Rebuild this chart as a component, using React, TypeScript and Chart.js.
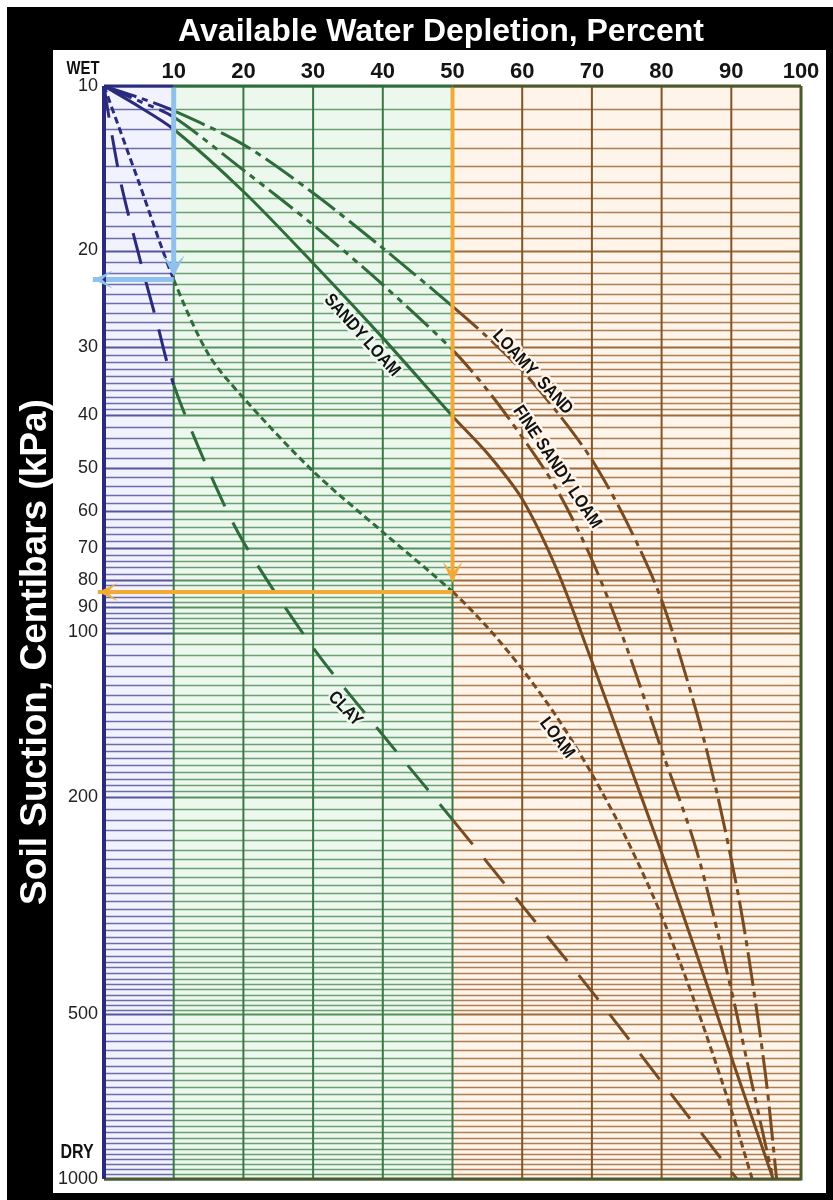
import React, { useEffect, useRef } from 'react';
import { Chart, registerables } from 'chart.js';

Chart.register(...registerables);

// ---------- data ----------
const TITLE = 'Available Water Depletion, Percent';
const Y_TITLE = 'Soil Suction, Centibars (kPa)';
const X_TICKS = [10, 20, 30, 40, 50, 60, 70, 80, 90, 100];
const Y_LABELS = [10, 20, 30, 40, 50, 60, 70, 80, 90, 100, 200, 500, 1000];
const REGION_BOUNDS = [0, 10, 50, 100];

const SANDY_LOAM_X = [0, 5, 10, 20, 30, 40, 50, 55, 60, 65, 70, 75, 80, 85, 90, 96];
const SANDY_LOAM_Y = [10, 10.9, 12.0, 15.6, 21.1, 28.9, 40.2, 47, 57, 76.9, 113, 169, 253, 387, 598, 1000];

const LOAMY_SAND_X = [0, 5, 10, 20, 30, 40, 50, 55, 60, 65, 70, 75, 80, 85, 88, 91, 93, 95, 96.5];
const LOAMY_SAND_Y = [10, 10.5, 11.1, 12.8, 15.7, 19.8, 25.3, 28.8, 33.2, 39.5, 48.3, 62.8, 87.2, 139.8, 198, 302, 432, 659, 1000];

const FINE_SANDY_LOAM_X = [0, 5, 10, 20, 30, 40, 50, 55, 60, 65, 70, 75, 80, 85, 90, 93, 96];
const FINE_SANDY_LOAM_Y = [10, 10.65, 11.4, 14.25, 17.96, 23.1, 30.4, 36, 43.9, 54.8, 73.6, 106.6, 164, 250, 451, 673, 1000];

const LOAM_X = [0, 5, 10, 15, 20, 30, 40, 50, 55, 60, 65, 70, 75, 80, 85, 90, 93];
const LOAM_Y = [10, 15, 22.6, 31, 37.2, 50.7, 65.5, 84.2, 97.8, 116.7, 143, 181.5, 239, 330, 484, 748, 1000];

const CLAY_X = [0, 1, 2.5, 5, 7.5, 10, 15, 20, 30, 40, 50, 60, 70, 80, 90.8];
const CLAY_Y = [10, 12, 15.2, 20.4, 26.8, 35.2, 50.5, 68.3, 106.6, 154, 220, 316, 454, 664, 1000];

const BLUE_DOWN_X = [10, 10];
const BLUE_DOWN_Y = [10, 22];
const BLUE_LEFT_X = [10, -1.6];
const BLUE_LEFT_Y = [22.6, 22.6];
const ORANGE_DOWN_X = [50, 50];
const ORANGE_DOWN_Y = [10, 80];
const ORANGE_LEFT_X = [50, -0.9];
const ORANGE_LEFT_Y = [84.3, 84.3];

const CURVE_LABELS = [
  { text: 'SANDY LOAM', x: 37, y: 28.6, angle: 48 },
  { text: 'LOAMY  SAND', x: 61.5, y: 33.4, angle: 47 },
  { text: 'FINE SANDY LOAM', x: 65, y: 49.8, angle: 56 },
  { text: 'CLAY', x: 34.6, y: 138, angle: 46 },
  { text: 'LOAM', x: 65, y: 156, angle: 53 },
];

// ---------- styles ----------
const FONT = "'Liberation Sans', Arial, sans-serif";
const REGION_FILL = ['#f1f2fd', '#ecf8ed', '#fff4e9'];
const REGION_LINE = ['#55559f', '#55905e', '#9c6a3a'];
const REGION_CURVE = ['#2b2b7d', '#2e6c3a', '#7a4b20'];
const GRID_STEPS = [
  [10, 40, 1],
  [40, 100, 2],
  [100, 200, 5],
  [200, 500, 10],
  [500, 1000, 20],
];

const gridValues: number[] = [];
for (const [a, b, s] of GRID_STEPS) {
  for (let v = a; v < b - 1e-9; v += s) gridValues.push(v);
}
gridValues.push(1000);

const regionOf = (xv: number) => (xv < REGION_BOUNDS[1] ? 0 : xv < REGION_BOUNDS[2] ? 1 : 2);
const pts = (xs: number[], ys: number[]) => xs.map((x, i) => ({ x, y: ys[i] }));

const curve = (label: string, xs: number[], ys: number[], dash: number[]) => ({
  label,
  data: pts(xs, ys),
  borderWidth: 3,
  borderDash: dash,
  borderColor: REGION_CURVE[2],
  borderCapStyle: 'butt',
  pointRadius: 0,
  fill: false,
  tension: 0.3,
  order: 1,
  segment: {
    borderColor: (c: any) => REGION_CURVE[regionOf((c.p0.parsed.x + c.p1.parsed.x) / 2)],
  },
});

const guide = (label: string, xs: number[], ys: number[], color: string, width: number) => ({
  label,
  data: pts(xs, ys),
  borderWidth: width,
  borderColor: color,
  borderCapStyle: 'butt',
  pointRadius: 0,
  fill: false,
  tension: 0,
  clip: false,
  order: 0,
});

function arrowHead(ctx: CanvasRenderingContext2D, tx: number, ty: number, dx: number, dy: number, len: number, half: number, color: string) {
  const bx = tx - dx * len;
  const by = ty - dy * len;
  const nx = -dy;
  const ny = dx;
  ctx.fillStyle = color;
  ctx.beginPath();
  ctx.moveTo(tx, ty);
  ctx.lineTo(bx + nx * half - dx * 3, by + ny * half - dy * 3);
  ctx.lineTo(bx + dx * len * 0.45, by + dy * len * 0.45);
  ctx.lineTo(bx - nx * half - dx * 3, by - ny * half - dy * 3);
  ctx.closePath();
  ctx.fill();
}

const framePlugin = {
  id: 'framePlugin',
  beforeDraw(chart: any) {
    const { ctx, width, height } = chart;
    ctx.save();
    ctx.fillStyle = '#ffffff';
    ctx.fillRect(0, 0, width, height);
    ctx.fillStyle = '#000000';
    ctx.fillRect(7, 7, width - 7, height - 7);
    ctx.fillStyle = '#ffffff';
    ctx.fillRect(53, 50, 773, 1143);

    ctx.fillStyle = '#ffffff';
    ctx.textAlign = 'center';
    ctx.textBaseline = 'alphabetic';
    ctx.font = `bold 32px ${FONT}`;
    ctx.fillText(TITLE, 441, 41);

    ctx.translate(46, 652);
    ctx.rotate(-Math.PI / 2);
    ctx.font = `bold 37px ${FONT}`;
    ctx.fillText(Y_TITLE, 0, 0);
    ctx.restore();
  },
  beforeDatasetsDraw(chart: any) {
    const { ctx, chartArea: a, scales } = chart;
    const xs = scales.x;
    const ys = scales.y;
    ctx.save();
    for (let i = 0; i < 3; i++) {
      const x0 = xs.getPixelForValue(REGION_BOUNDS[i]);
      const x1 = xs.getPixelForValue(REGION_BOUNDS[i + 1]);
      ctx.fillStyle = REGION_FILL[i];
      ctx.fillRect(x0, a.top, x1 - x0, a.bottom - a.top);
    }
    for (const v of gridValues) {
      const py = Math.round(ys.getPixelForValue(v)) + 0.5;
      const major = Y_LABELS.includes(v);
      for (let i = 0; i < 3; i++) {
        const x0 = xs.getPixelForValue(REGION_BOUNDS[i]);
        const x1 = xs.getPixelForValue(REGION_BOUNDS[i + 1]);
        ctx.strokeStyle = REGION_LINE[i];
        ctx.globalAlpha = major ? 1 : 0.85;
        ctx.lineWidth = major ? 2 : 1.3;
        ctx.beginPath();
        ctx.moveTo(x0, py);
        ctx.lineTo(x1, py);
        ctx.stroke();
      }
    }
    ctx.globalAlpha = 1;
    for (const v of X_TICKS) {
      if (v >= 100) continue;
      const px = xs.getPixelForValue(v);
      ctx.strokeStyle = v <= REGION_BOUNDS[2] ? '#3c7845' : '#845428';
      ctx.lineWidth = 2;
      ctx.beginPath();
      ctx.moveTo(px, a.top);
      ctx.lineTo(px, a.bottom);
      ctx.stroke();
    }
    ctx.restore();
  },
  afterDatasetsDraw(chart: any) {
    const { ctx, chartArea: a, scales } = chart;
    const xs = scales.x;
    const ys = scales.y;
    ctx.save();
    // frame
    ctx.lineWidth = 3;
    ctx.strokeStyle = '#4b5a2e';
    ctx.beginPath();
    ctx.moveTo(a.left, a.bottom);
    ctx.lineTo(a.right, a.bottom);
    ctx.lineTo(a.right, a.top);
    ctx.stroke();
    const tops = ['#2b2b7d', '#2e6c3a', '#4b5a2e'];
    for (let i = 0; i < 3; i++) {
      ctx.strokeStyle = tops[i];
      ctx.beginPath();
      ctx.moveTo(xs.getPixelForValue(REGION_BOUNDS[i]), a.top);
      ctx.lineTo(xs.getPixelForValue(REGION_BOUNDS[i + 1]), a.top);
      ctx.stroke();
    }
    ctx.strokeStyle = '#2b2b7d';
    ctx.lineWidth = 4;
    ctx.beginPath();
    ctx.moveTo(a.left, a.top);
    ctx.lineTo(a.left, a.bottom);
    ctx.stroke();

    // arrow heads
    arrowHead(ctx, xs.getPixelForValue(BLUE_DOWN_X[1]), ys.getPixelForValue(BLUE_DOWN_Y[1]) + 3, 0, 1, 18, 11, '#8ec2ec');
    arrowHead(ctx, xs.getPixelForValue(BLUE_LEFT_X[1]), ys.getPixelForValue(BLUE_LEFT_Y[1]), -1, 0, 17, 9, '#8ec2ec');
    arrowHead(ctx, xs.getPixelForValue(ORANGE_DOWN_X[1]), ys.getPixelForValue(ORANGE_DOWN_Y[1]) + 3, 0, 1, 18, 10, '#f1aa36');
    arrowHead(ctx, xs.getPixelForValue(ORANGE_LEFT_X[1]), ys.getPixelForValue(ORANGE_LEFT_Y[1]), -1, 0, 17, 9, '#f1aa36');

    // curve labels
    ctx.textAlign = 'center';
    ctx.textBaseline = 'middle';
    ctx.font = `bold 18px ${FONT}`;
    for (const l of CURVE_LABELS) {
      const px = xs.getPixelForValue(l.x);
      const py = ys.getPixelForValue(l.y);
      ctx.save();
      ctx.translate(px, py);
      ctx.rotate((l.angle * Math.PI) / 180);
      ctx.scale(0.86, 1);
      ctx.lineWidth = 5;
      ctx.strokeStyle = REGION_FILL[regionOf(l.x)];
      ctx.lineJoin = 'round';
      ctx.strokeText(l.text, 0, 0);
      ctx.fillStyle = '#111111';
      ctx.fillText(l.text, 0, 0);
      ctx.restore();
    }

    // WET / DRY
    ctx.fillStyle = '#111111';
    ctx.textBaseline = 'alphabetic';
    ctx.save();
    ctx.translate(83, 74);
    ctx.scale(0.78, 1);
    ctx.font = `bold 19px ${FONT}`;
    ctx.fillText('WET', 0, 0);
    ctx.restore();
    ctx.save();
    ctx.translate(77, 1158);
    ctx.scale(0.8, 1);
    ctx.font = `bold 20px ${FONT}`;
    ctx.fillText('DRY', 0, 0);
    ctx.restore();
    ctx.restore();
  },
};

export default function App() {
  const ref = useRef<HTMLCanvasElement | null>(null);
  useEffect(() => {
    if (!ref.current) return;
    const chart = new Chart(ref.current, {
      type: 'line',
      data: {
        datasets: [
          guide('blue-down', BLUE_DOWN_X, BLUE_DOWN_Y, '#8ec2ec', 5),
          guide('blue-left', BLUE_LEFT_X, BLUE_LEFT_Y, '#8ec2ec', 5),
          guide('orange-down', ORANGE_DOWN_X, ORANGE_DOWN_Y, '#f1aa36', 4),
          guide('orange-left', ORANGE_LEFT_X, ORANGE_LEFT_Y, '#f1aa36', 4),
          curve('Sandy Loam', SANDY_LOAM_X, SANDY_LOAM_Y, []),
          curve('Loamy Sand', LOAMY_SAND_X, LOAMY_SAND_Y, [34, 6, 6, 6]),
          curve('Fine Sandy Loam', FINE_SANDY_LOAM_X, FINE_SANDY_LOAM_Y, [30, 6, 6, 6, 6, 6]),
          curve('Loam', LOAM_X, LOAM_Y, [7, 4]),
          curve('Clay', CLAY_X, CLAY_Y, [32, 18]),
        ] as any,
      },
      options: {
        responsive: false,
        animation: false,
        events: [],
        layout: { padding: { left: 54, top: 56, right: 32, bottom: 21 } },
        plugins: {
          legend: { display: false },
          tooltip: { enabled: false },
          title: { display: false },
        },
        scales: {
          x: {
            type: 'linear',
            position: 'top',
            min: 0,
            max: 100,
            grid: { display: false, drawTicks: false },
            border: { display: false },
            afterBuildTicks: (s: any) => {
              s.ticks = [{ value: 0 }, ...X_TICKS.map((v) => ({ value: v }))];
            },
            ticks: {
              autoSkip: false,
              maxRotation: 0,
              padding: 1,
              color: '#141414',
              font: { family: FONT, size: 22, weight: 'bold' },
              callback: (v: any) => (v === 0 ? '' : String(v)),
            },
            afterFit: (s: any) => {
              s.height = 30;
            },
          },
          y: {
            type: 'logarithmic',
            min: 10,
            max: 1000,
            reverse: true,
            grid: { display: false, drawTicks: false },
            border: { display: false },
            afterBuildTicks: (s: any) => {
              s.ticks = Y_LABELS.map((v) => ({ value: v }));
            },
            ticks: {
              autoSkip: false,
              padding: 6,
              color: '#222222',
              font: { family: FONT, size: 18 },
              callback: (v: any) => String(v),
            },
            afterFit: (s: any) => {
              s.width = 50;
            },
          },
        },
      } as any,
      plugins: [framePlugin],
    });
    return () => chart.destroy();
  }, []);
  return (
    <div style={{ position: 'fixed', left: 0, top: 0, width: 833, height: 1200, background: '#fff' }}>
      <canvas ref={ref} width={833} height={1200} style={{ display: 'block' }} />
    </div>
  );
}
